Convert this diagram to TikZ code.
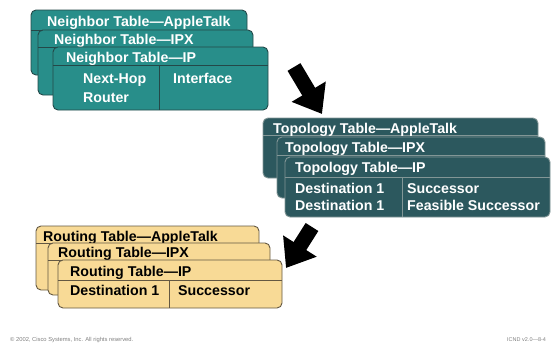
\documentclass[tikz,border=0pt]{standalone}
\usepackage{fontspec}
\setmainfont{Liberation Sans}
\usetikzlibrary{arrows.meta}
\definecolor{nbfill}{RGB}{40,142,138}
\definecolor{nbline}{RGB}{36,72,72}
\definecolor{tpfill}{RGB}{44,88,94}
\definecolor{tpline}{RGB}{130,150,150}
\definecolor{rtfill}{RGB}{248,218,150}
\definecolor{rtline}{RGB}{100,88,66}
\begin{document}
\begin{tikzpicture}[x=1pt,y=-1pt,font=\fontsize{14.2}{16}\selectfont\bfseries,
  card/.style={rounded corners=5pt,line width=0.9pt},
  sep/.style={line width=0.9pt},
  lab/.style={anchor=base west,inner sep=0pt},
  bigarrow/.style={line width=15pt,-{Triangle[length=26pt,width=38pt]}}]
\useasboundingbox (0,0) rectangle (552,343);

% neighbor tables
\foreach \i/\xl/\yt/\xr/\yb/\ys/\xt/\ybase/\tname in {1/31/10/247/75/30/47/26/AppleTalk,2/38/30/253/95/47/54/44/IPX,3/53/47/268/110/65/66/62/IP}{
  \draw[card,nbline,fill=nbfill] (\xl,\yt) rectangle (\xr,\yb);
  \draw[sep,nbline] (\xl,\ys) -- (\xr,\ys);
  \node[lab,white] (nb\i) at (\xt,\ybase) {Neighbor Table—\tname};
}
\draw[sep,nbline] (159,65) -- (159,110);
\node[lab,white] (nbhop) at (83,83) {Next-Hop};
\node[lab,white] (nbrouter) at (83,102) {Router};
\node[lab,white] (nbif) at (173,83) {Interface};

% topology tables
\foreach \i/\xl/\yt/\xr/\yb/\ys/\xt/\ybase/\tname in {1/263/118/538/178/135/273/133/AppleTalk,2/277/137/545/198/155/285/152/IPX,3/285/157/550/217/177/295/172/IP}{
  \draw[card,tpline,fill=tpfill] (\xl,\yt) rectangle (\xr,\yb);
  \draw[sep,tpline] (\xl,\ys) -- (\xr,\ys);
  \node[lab,white] (tp\i) at (\xt,\ybase) {Topology Table—\tname};
}
\draw[sep,tpline] (402,177) -- (402,217);
\node[lab,white] (tpdesta) at (295,193) {Destination 1};
\node[lab,white] (tpdestb) at (295,210) {Destination 1};
\node[lab,white] (tpsucc) at (407,193) {Successor};
\node[lab,white] (tpfeas) at (407,210) {Feasible Successor};

% routing tables
\foreach \i/\xl/\yt/\xr/\yb/\ys/\xt/\ybase/\tname in {1/36/226/259/290/243/43/241/AppleTalk,2/48/243/270/295/260/58/257/IPX,3/58/260/282/308/280/70/276/IP}{
  \draw[card,rtline,fill=rtfill] (\xl,\yt) rectangle (\xr,\yb);
  \draw[sep,rtline] (\xl,\ys) -- (\xr,\ys);
  \node[lab,black] (rt\i) at (\xt,\ybase) {Routing Table—\tname};
}
\draw[sep,rtline] (169,280) -- (169,308);
\node[lab,black] (rtdest) at (70,295) {Destination 1};
\node[lab,black] (rtsucc) at (178,295) {Successor};

% arrows
\coordinate (ara) at (294,67);
\coordinate (arb) at (322,114);
\coordinate (arc) at (312,227);
\coordinate (ard) at (286,268);
\draw[bigarrow] (ara) -- (arb);
\draw[bigarrow] (arc) -- (ard);

% footer
\node[anchor=base west,inner sep=0pt,font=\fontsize{5.8}{7}\selectfont,gray] (copy) at (10,341) {© 2002, Cisco Systems, Inc. All rights reserved.};
\node[anchor=base west,inner sep=0pt,font=\fontsize{5.5}{7}\selectfont,gray] (icnd) at (507,341) {ICND v2.0—8-4};
\end{tikzpicture}
\end{document}
